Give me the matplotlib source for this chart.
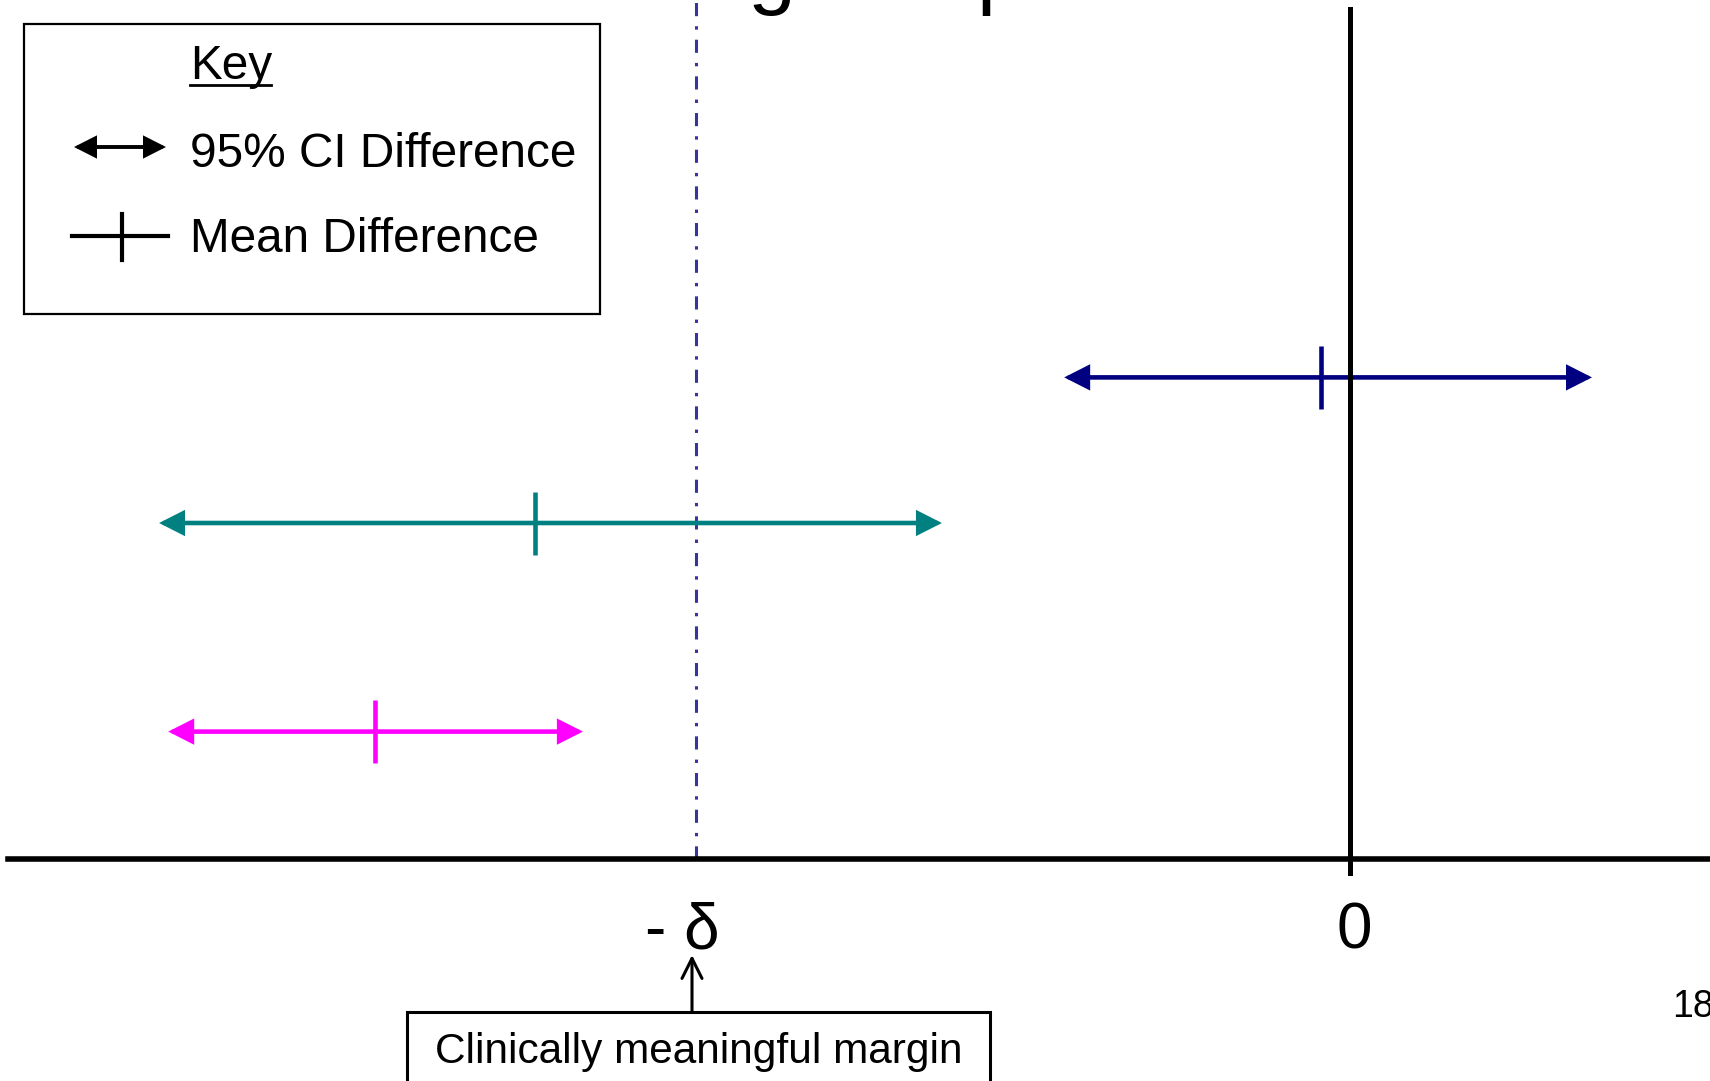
import matplotlib.pyplot as plt
from matplotlib.patches import Rectangle
from matplotlib.lines import Line2D

plt.rcParams['font.family'] = ['Liberation Sans', 'DejaVu Sans']

# x in units of the margin: 0 = no difference, -1 = -delta
margin = -1.0
row_y = [3.44, 2.40, 0.91]
ci_low = [-0.437, -1.821, -1.807]
ci_high = [0.370, -0.624, -1.173]
mean_diff = [-0.044, -1.246, -1.491]
colors = ['#000080', '#008080', '#ff00ff']

tick_pos = [margin, 0]
tick_labels = ['- δ', '0']

W, H = 1710, 1081


def fx(px):
    return px / W


def fy(py):
    return 1 - py / H


fig = plt.figure(figsize=(17.1, 10.81), dpi=100)
ax = fig.add_axes([0, 0, 1, 1])
ax.set_xlim(-1350 / 654, 360 / 654)
ax.set_ylim(-222 / 140, 859 / 140)
ax.axis('off')

# axes lines
ax.axhline(0, xmin=8 / W, color='black', lw=4, zorder=4)
ax.axvline(0, ymin=(H - 873) / H, ymax=(H - 9) / H, color='black', lw=3.6, zorder=5)
ax.axvline(margin, ymin=(H - 859) / H, ymax=1, color='#35359c', lw=2.2,
           dashes=(4.3, 3.3, 1.1, 3.3), zorder=1)

arrow_style = '<|-|>,head_length=1.34,head_width=0.68'

# confidence intervals and means
for y, lo, hi, m, c in zip(row_y, ci_low, ci_high, mean_diff, colors):
    ax.annotate('', xy=(hi, y), xytext=(lo, y),
                arrowprops=dict(arrowstyle=arrow_style, mutation_scale=10,
                                lw=3.3, color=c, shrinkA=0, shrinkB=0,
                                joinstyle='miter'))
    ax.vlines(m, y - 0.225, y + 0.225, color=c, lw=3.3, zorder=3)

# tick labels
ax.annotate(tick_labels[0], xy=(tick_pos[0], 0), xytext=(-10, -52),
            textcoords='offset points', ha='center', va='center', fontsize=46)
ax.annotate(tick_labels[1], xy=(tick_pos[1], 0), xytext=(3, -52),
            textcoords='offset points', ha='center', va='center', fontsize=46)

# key box
fig.add_artist(Rectangle((fx(24), fy(314)), fx(600) - fx(24), fy(24) - fy(314),
                         transform=fig.transFigure, fill=False, ec='black', lw=1.6))
fig.text(fx(190), fy(79), 'Key', fontsize=34.4, va='baseline')
fig.add_artist(Line2D([fx(190), fx(271)], [fy(85), fy(85)],
                      transform=fig.transFigure, color='black', lw=2))
ax.annotate('', xy=(fx(166), fy(147)), xytext=(fx(74), fy(147)),
            xycoords='figure fraction',
            arrowprops=dict(arrowstyle=arrow_style, mutation_scale=9,
                            lw=2.8, color='black', shrinkA=0, shrinkB=0,
                            joinstyle='miter'))
fig.text(fx(190), fy(167), '95% CI Difference', fontsize=34.4, va='baseline')
fig.add_artist(Line2D([fx(72), fx(168)], [fy(236), fy(236)],
                      transform=fig.transFigure, color='black', lw=3))
fig.add_artist(Line2D([fx(122), fx(122)], [fy(214), fy(260)],
                      transform=fig.transFigure, color='black', lw=3))
fig.text(fx(190), fy(252), 'Mean Difference', fontsize=34.4, va='baseline')

# margin callout
ax.annotate('', xy=(fx(692), fy(955)), xytext=(fx(692), fy(1012)),
            xycoords='figure fraction',
            arrowprops=dict(arrowstyle='->,head_length=0.4,head_width=0.2',
                            mutation_scale=36, lw=2.2, color='black',
                            shrinkA=0, shrinkB=0))
fig.add_artist(Rectangle((fx(407), fy(1100)), fx(990) - fx(407), fy(1012) - fy(1100),
                         transform=fig.transFigure, fill=False, ec='black', lw=2.2))
fig.text(fx(699), fy(1063), 'Clinically meaningful margin', fontsize=30.5,
         ha='center', va='baseline')

# slide number and cut-off title
fig.text(fx(1672), fy(1017), '18', fontsize=27, va='baseline')
fig.text(fx(747), fy(-2), 'g', fontsize=62, va='baseline')
fig.text(fx(976), fy(-2), 'p', fontsize=62, va='baseline')

fig.savefig('out.png', dpi=100)
